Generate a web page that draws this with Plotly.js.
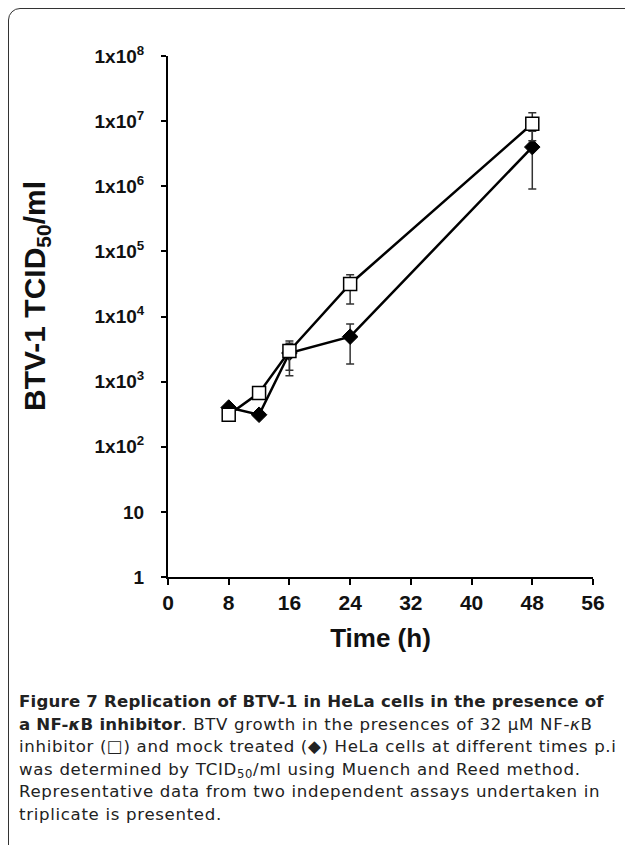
<!DOCTYPE html>
<html>
<head>
<meta charset="utf-8">
<script src="https://cdn.plot.ly/plotly-3.0.1.min.js"></script>
<style>
html,body{margin:0;padding:0;background:#fff;}
#wrap{position:relative;width:625px;height:845px;overflow:hidden;}
#frame{position:absolute;left:8px;top:8px;width:640px;height:860px;border:1.5px solid #333;border-radius:12px;box-sizing:border-box;}
#chart{position:absolute;left:0;top:0;width:625px;height:845px;}
#caption{position:absolute;left:19px;top:691px;font-family:'DejaVu Sans','Open Sans',sans-serif;font-size:16.6px;line-height:22.6px;color:#222;letter-spacing:0.68px;}
#caption div{white-space:nowrap;height:22.6px;}
#caption b{letter-spacing:0.2px;}
#caption sub{font-size:0.7em;line-height:0;vertical-align:-0.25em;}
</style>
</head>
<body>
<div id="wrap"><div id="frame"></div><div id="chart"></div><div id="caption"></div></div>
<script>
const timeH = [8, 12, 16, 24, 48];
const inhibitor = [310, 670, 2950, 31600, 9100000];
const inhibitorErrPlus = [0, 0, 950, 12000, 4400000];
const inhibitorErrMinus = [0, 0, 1450, 16000, 4100000];
const mock = [400, 310, 2750, 4900, 4000000];
const mockErrPlus = [0, 0, 1450, 2800, 3000000];
const mockErrMinus = [0, 0, 1520, 3030, 3090000];
const xTicks = [0, 8, 16, 24, 32, 40, 48, 56];
const yTickVals = [1, 10, 100, 1000, 10000, 100000, 1000000, 10000000, 100000000];
const yTickText = ['1', '10', '1x10<sup>2</sup>', '1x10<sup>3</sup>', '1x10<sup>4</sup>', '1x10<sup>5</sup>', '1x10<sup>6</sup>', '1x10<sup>7</sup>', '1x10<sup>8</sup>'];
const captionLines = [
  '<b>Figure 7 Replication of BTV-1 in HeLa cells in the presence of</b>',
  '<b>a NF-<i>κ</i>B inhibitor</b>. BTV growth in the presences of 32 μM NF-<i>κ</i>B',
  'inhibitor (□) and mock treated (◆) HeLa cells at different times p.i',
  'was determined by TCID<sub>50</sub>/ml using Muench and Reed method.',
  'Representative data from two independent assays undertaken in',
  'triplicate is presented.'
];

document.getElementById('caption').innerHTML = captionLines.map(l => '<div>' + l + '</div>').join('');

const traces = [
  {
    x: timeH, y: mock, type: 'scatter', mode: 'lines+markers', name: 'mock treated',
    line: {color: '#000', width: 2.5},
    marker: {symbol: 'diamond', size: 12, color: '#000', line: {color: '#000', width: 1}},
    error_y: {type: 'data', symmetric: false, array: mockErrPlus, arrayminus: mockErrMinus, color: '#333', thickness: 1.5, width: 4}
  },
  {
    x: timeH, y: inhibitor, type: 'scatter', mode: 'lines+markers', name: 'NF-κB inhibitor',
    line: {color: '#000', width: 2.5},
    marker: {symbol: 'square', size: 13, color: '#fff', line: {color: '#000', width: 1.5}},
    error_y: {type: 'data', symmetric: false, array: inhibitorErrPlus, arrayminus: inhibitorErrMinus, color: '#333', thickness: 1.5, width: 4}
  }
];

const annotations = [{
  text: '<b>BTV-1 TCID<sub>50</sub>/ml</b>', xref: 'paper', yref: 'paper',
  x: (36 - 168) / (593 - 168), y: (577 - 296) / (577 - 56), textangle: -90,
  xanchor: 'center', yanchor: 'middle', showarrow: false,
  font: {family: 'Liberation Sans, Arial, sans-serif', size: 30, color: '#111'}
}];

const layout = {
  width: 625, height: 845,
  margin: {l: 168, r: 32, t: 56, b: 268},
  paper_bgcolor: 'rgba(0,0,0,0)', plot_bgcolor: 'rgba(0,0,0,0)',
  showlegend: false,
  font: {family: 'Liberation Sans, Arial, sans-serif', color: '#111'},
  xaxis: {
    range: [0, 56], tickvals: xTicks, ticktext: xTicks.map(String),
    showline: true, linecolor: '#000', linewidth: 2, showgrid: false, zeroline: false,
    ticks: 'outside', ticklen: 6, tickwidth: 2, tickcolor: '#000',
    tickfont: {family: 'Liberation Sans, Arial, sans-serif', size: 21, color: '#111', weight: 'bold'},
    title: {text: '<b>Time (h)</b>', font: {family: 'Liberation Sans, Arial, sans-serif', size: 26, color: '#111'}, standoff: 16}
  },
  yaxis: {
    type: 'log', range: [0, 8], tickvals: yTickVals, ticktext: yTickText,
    showline: true, linecolor: '#000', linewidth: 2, showgrid: false, zeroline: false,
    ticks: 'outside', ticklen: 5, tickwidth: 2, tickcolor: '#000',
    ticklabelstandoff: 13,
    tickfont: {family: 'Liberation Sans, Arial, sans-serif', size: 19, color: '#111', weight: 'bold'}
  },
  annotations: annotations
};

Plotly.newPlot('chart', traces, layout, {displayModeBar: false, staticPlot: true});
</script>
</body>
</html>
